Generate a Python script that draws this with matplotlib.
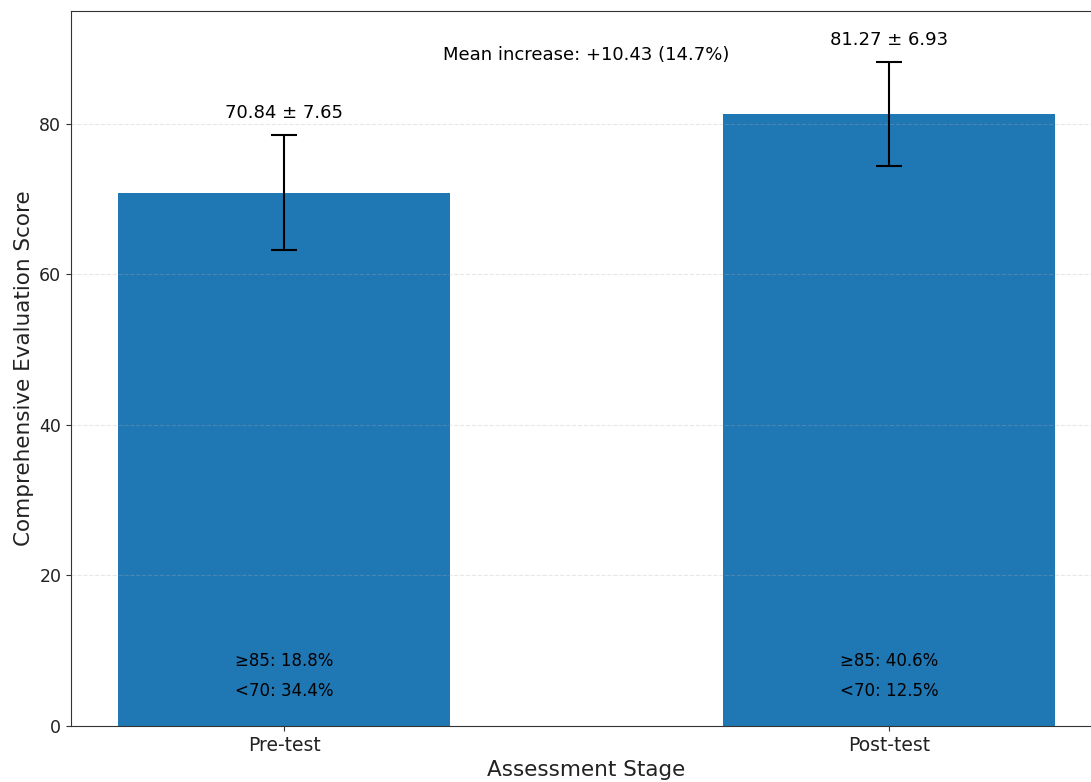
import matplotlib
matplotlib.use("Agg")
import matplotlib.pyplot as plt

# Assessment data
stages = ["Pre-test", "Post-test"]
means = [70.84, 81.27]
stds = [7.65, 6.93]
high_pct = [18.8, 40.6]   # share of scores >= 85
low_pct = [34.4, 12.5]    # share of scores < 70
mean_increase = 10.43
pct_increase = 14.7


def plot_scores(save_path="out.png"):
    fig = plt.figure(figsize=(10.91, 7.82), dpi=100)
    ax = fig.add_axes([0.0651, 0.0716, 0.945, 0.9144])

    x = list(range(len(stages)))
    ax.bar(x, means, width=0.55, color="#1f77b4")
    ax.errorbar(x, means, yerr=stds, fmt="none", ecolor="black",
                elinewidth=1.5, capsize=9.5, capthick=1.5)

    for i in x:
        ax.text(i, means[i] + stds[i] + 1.7, f"{means[i]:.2f} ± {stds[i]:.2f}",
                ha="center", va="bottom", fontsize=13)
        ax.text(i, 8.6, f"≥85: {high_pct[i]:.1f}%", ha="center", va="center",
                fontsize=12)
        ax.text(i, 4.6, f"<70: {low_pct[i]:.1f}%", ha="center", va="center",
                fontsize=12)

    ax.text(0.5, 89.1, f"Mean increase: +{mean_increase:.2f} ({pct_increase:.1f}%)",
            ha="center", va="center", fontsize=13)

    ax.set_xticks(x)
    ax.set_xticklabels(stages, fontsize=13.5)
    ax.tick_params(axis="y", labelsize=12.5)
    ax.tick_params(colors="#333333", labelcolor="#222222")
    for spine in ax.spines.values():
        spine.set_color("#333333")
    ax.set_ylim(0, 95)
    ax.set_xlabel("Assessment Stage", fontsize=15.5, color="#222222")
    ax.set_ylabel("Comprehensive Evaluation Score", fontsize=15.5, color="#222222")
    ax.grid(axis="y", linestyle="--", alpha=0.3)

    fig.savefig(save_path, dpi=100)


if __name__ == "__main__":
    plot_scores()
